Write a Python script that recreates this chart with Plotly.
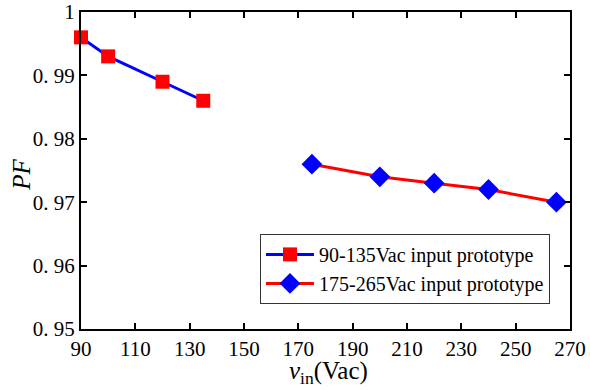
import plotly.graph_objects as go

x_low = [90, 100, 120, 135]
pf_low = [0.996, 0.993, 0.989, 0.986]
x_high = [175, 200, 220, 240, 265]
pf_high = [0.976, 0.974, 0.973, 0.972, 0.970]

name_low = "90-135Vac input prototype"
name_high = "175-265Vac input prototype"

x_ticks = [90, 110, 130, 150, 170, 190, 210, 230, 250, 270]
y_ticks = [0.95, 0.96, 0.97, 0.98, 0.99, 1.0]
y_ticktext = ["0. 95", "0. 96", "0. 97", "0. 98", "0. 99", "1"]

FONT = "Times New Roman, Liberation Serif, DejaVu Serif, serif"

fig = go.Figure()
fig.add_trace(go.Scatter(
    x=x_low, y=pf_low, name=name_low, mode="lines+markers",
    line=dict(color="#0000ff", width=3),
    marker=dict(symbol="square", color="#ff0000", size=14),
    cliponaxis=False,
))
fig.add_trace(go.Scatter(
    x=x_high, y=pf_high, name=name_high, mode="lines+markers",
    line=dict(color="#ff0000", width=3),
    marker=dict(symbol="diamond", color="#0000ff", size=16),
    cliponaxis=False,
))

axis_common = dict(
    showgrid=False, zeroline=False, showline=True, linecolor="black",
    linewidth=2, mirror="ticks", ticks="inside", ticklen=6, tickwidth=2,
    tickcolor="black", tickfont=dict(family=FONT, size=21, color="black"),
    automargin=False, ticklabeloverflow="allow",
)

fig.update_xaxes(range=[90, 270], tickvals=x_ticks, ticklabelstandoff=0, **axis_common)
fig.update_yaxes(range=[0.95, 1.0], tickvals=y_ticks, ticktext=y_ticktext, **axis_common)

fig.add_annotation(
    text="<i>v</i><sub>in</sub>(Vac)", xref="paper", yref="paper",
    x=0.507, y=-0.136, xanchor="center", yanchor="middle", showarrow=False,
    font=dict(family=FONT, size=25, color="black"),
)
fig.add_annotation(
    text="<i>PF</i>", xref="paper", yref="paper", textangle=-90,
    x=-0.121, y=0.486, xanchor="center", yanchor="middle", showarrow=False,
    font=dict(family=FONT, size=25, color="black"),
)

fig.update_layout(
    width=590, height=390,
    margin=dict(l=81, r=20, t=12, b=61),
    plot_bgcolor="white", paper_bgcolor="white",
    font=dict(family=FONT, color="black"),
    legend=dict(
        x=0.366, y=0.30, xanchor="left", yanchor="top",
        bgcolor="white", bordercolor="#333333", borderwidth=1,
        font=dict(family=FONT, size=20, color="black"),
        tracegroupgap=0, itemwidth=48,
    ),
)

fig.write_html(
    "out.html",
    config={"displayModeBar": False},
    post_script="document.body.style.margin='0';document.body.style.overflow='hidden';",
)
